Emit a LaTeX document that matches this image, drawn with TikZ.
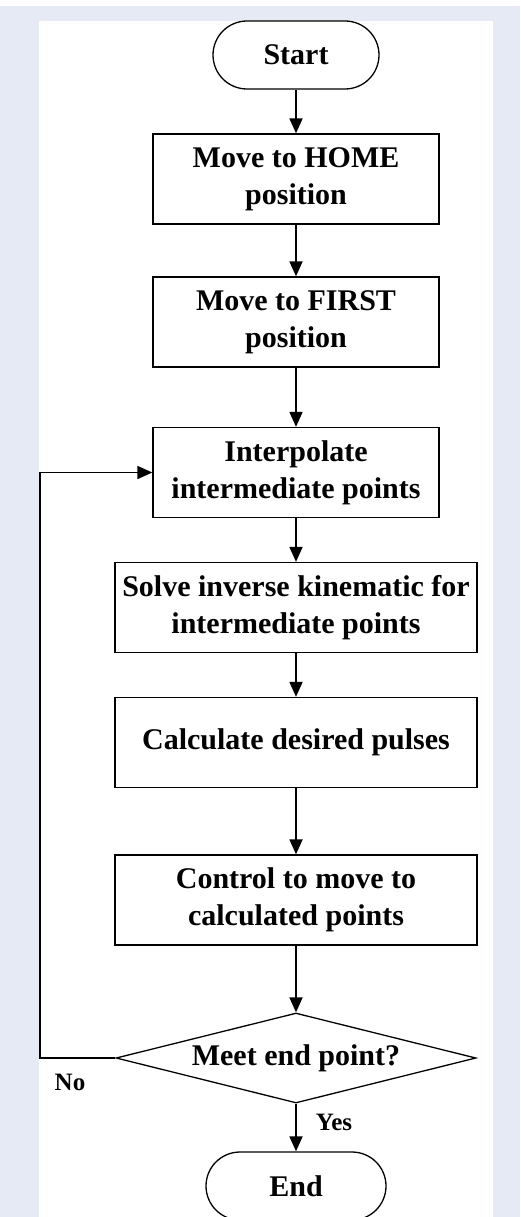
\documentclass[tikz,border=0pt]{standalone}
\usepackage{fontspec}
\setmainfont{Liberation Serif}
\usetikzlibrary{arrows.meta,shapes.geometric}
\definecolor{framebg}{HTML}{E6EAF5}
\tikzset{
  every node/.style={font=\bfseries\fontsize{30}{37}\selectfont, align=center, inner sep=0pt},
  term/.style={draw, line width=1.3pt, rounded corners=34pt, minimum width=166pt, minimum height=68pt},
  proc/.style={draw, line width=1.3pt, minimum width=286pt, minimum height=90pt},
  wide/.style={proc, minimum width=362pt},
  decide/.style={draw, line width=1.3pt, diamond, aspect=4, minimum width=360pt, minimum height=90pt},
  conn/.style={line width=1.8pt, -{Triangle[length=15pt,width=13pt]}},
  lbl/.style={font=\bfseries\fontsize{25}{30}\selectfont}
}
\begin{document}
\begin{tikzpicture}[x=1pt,y=-1pt]
\useasboundingbox (0,0) rectangle (520,1217);
\fill[framebg] (0,6) rectangle (520,1217);
\fill[white] (39,21) rectangle (493,1217);
\node[term] (start) at (296,55) {Start};
\node[proc] (home) at (296,179) {Move to HOME\\position};
\node[proc] (first) at (296,322) {Move to FIRST\\position};
\node[proc] (interp) at (296,472.5) {Interpolate\\intermediate points};
\node[wide] (ik) at (296,607.5) {Solve inverse kinematic for\\intermediate points};
\node[wide] (pulses) at (296,742.5) {Calculate desired pulses};
\node[wide] (control) at (296,900) {Control to move to\\calculated points};
\node[draw, line width=1.3pt, diamond, minimum width=360pt, minimum height=90pt, aspect=4, inner sep=0pt] (meet) at (296,1058) {};
\node at (296,1058) {Meet end point?};
\node[term, minimum width=180pt] (end) at (296,1186) {End};
\coordinate (c1) at (40,1058);
\coordinate (c2) at (40,472.5);
\draw[conn] (start) -- (home);
\draw[conn] (home) -- (first);
\draw[conn] (first) -- (interp);
\draw[conn] (interp) -- (ik);
\draw[conn] (ik) -- (pulses);
\draw[conn] (pulses) -- (control);
\draw[conn] (control) -- (meet.north);
\draw[conn] (meet.south) -- (end);
\draw[conn] (meet.west) -- (c1) -- (c2) -- (interp.west);
\node[lbl] (no) at (70,1082) {No};
\node[lbl] (yes) at (334,1122) {Yes};
\end{tikzpicture}
\end{document}
